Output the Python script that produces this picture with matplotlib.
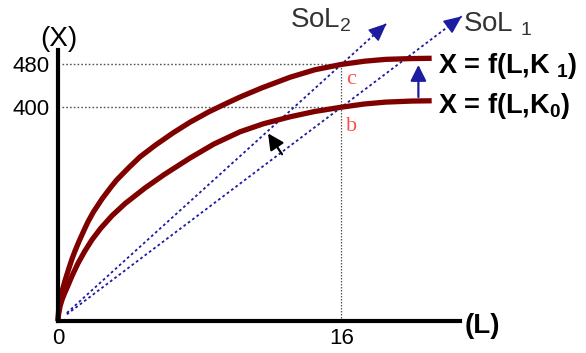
import matplotlib
matplotlib.use("Agg")
import matplotlib.pyplot as plt

plt.rcParams['font.family'] = ['Liberation Sans', 'DejaVu Sans']
plt.rcParams['mathtext.fontset'] = 'custom'
plt.rcParams['mathtext.rm'] = 'Liberation Sans'
plt.rcParams['mathtext.it'] = 'Liberation Sans'
plt.rcParams['mathtext.bf'] = 'Liberation Sans:bold'

# production curves (L, X)
L_k1 = [0, 0.03, 0.11, 0.2, 0.3, 0.4, 0.6, 0.8, 0.96, 1.2, 1.5, 1.7, 2.0, 2.5,
        3.0, 3.32, 4.0, 4.63, 5.5, 6.5, 7.46, 8.5, 9.5, 10.28, 11.5, 13.1,
        14.5, 16, 17.3, 18.5, 20, 21.1]
X_k1 = [0, 18, 38, 52, 64, 76, 97, 117, 131, 150, 172, 186, 204, 229,
        251, 264, 287, 307, 329, 352, 372, 391, 407, 419, 436, 456,
        470, 480, 486, 489.5, 491, 491.5]
L_k0 = [0, 0.03, 0.12, 0.25, 0.4, 0.56, 0.8, 1.13, 1.5, 1.92, 2.4, 3.05, 3.8,
        4.92, 6.0, 7.46, 8.8, 10.28, 11.6, 13.1, 14.5, 16, 17.3, 18.5, 20, 21.1]
X_k0 = [0, 12, 28, 42, 54, 66, 85, 108, 130, 152, 173, 197, 220,
        249, 274, 305, 331, 354, 369, 382, 392, 400, 406, 409.5, 411.5, 412]

# scale-of-labour rays (start, end)
sol1_L = [0.5, 22.8]
sol1_X = [12.5, 570]
sol2_L = [0.5, 18.55]
sol2_X = [15, 556.5]

L0 = 16
X_b = 400
X_c = 480
xticks = [0, 16]
yticks = [400, 480]

red = '#800000'
blue = '#1c1ca0'
grey = '#555555'

fig = plt.figure(figsize=(5.86, 3.53), dpi=100)
ax = fig.add_axes([58/586, 32/353, 402/586, 271/353])
ax.set_xlim(0, 22.7)
ax.set_ylim(0, 507)

# guide lines
ax.plot([0.2, L0], [X_c, X_c], color=grey, lw=1, ls=(0, (1.2, 1.5)))
ax.plot([0.2, L0], [X_b, X_b], color=grey, lw=1, ls=(0, (1.2, 1.5)))
ax.plot([L0, L0], [0, X_c], color=grey, lw=0.9, ls=(0, (1.2, 1.2)))

# rays
for lx, ly in [(sol1_L, sol1_X), (sol2_L, sol2_X)]:
    ax.plot(lx, ly, color=blue, lw=1.3, ls=(0, (1.5, 1.5)), clip_on=False)
    ax.annotate('', xy=(lx[1], ly[1]),
                xytext=(lx[1] - 0.02 * (lx[1] - lx[0]), ly[1] - 0.02 * (ly[1] - ly[0])),
                arrowprops=dict(arrowstyle='-|>,head_length=0.8,head_width=0.35',
                                color=blue, lw=1, shrinkA=0, shrinkB=0,
                                mutation_scale=14),
                annotation_clip=False)

# curves
ax.plot(L_k1, X_k1, color=red, lw=3.8, solid_capstyle='butt',
        solid_joinstyle='round', clip_on=False)
ax.plot(L_k0, X_k0, color=red, lw=3.8, solid_capstyle='butt',
        solid_joinstyle='round', clip_on=False)

# shift arrows
ax.annotate('', xy=(20.35, 479), xytext=(20.35, 419),
            arrowprops=dict(arrowstyle='-|>,head_length=0.8,head_width=0.4',
                            color=blue, lw=1.6, shrinkA=0, shrinkB=0,
                            mutation_scale=12))
ax.annotate('', xy=(11.86, 351), xytext=(12.65, 312),
            arrowprops=dict(arrowstyle='-|>,head_length=0.8,head_width=0.4',
                            color='black', lw=1.6, shrinkA=0, shrinkB=0,
                            mutation_scale=12))

# labels
ax.text(16.55, 451, 'c', color='#ff4d4d', fontsize=16, family='Liberation Serif',
        ha='center', va='center')
ax.text(16.6, 363, 'b', color='#ff4d4d', fontsize=16, family='Liberation Serif',
        ha='center', va='center')
ax.text(21.46, 478, r'X = f(L,K $_{\mathbf{1}}$)', fontsize=19.5, fontweight='bold',
        ha='left', va='center', clip_on=False)
ax.text(21.46, 403, r'X = f(L,K$_{\mathbf{0}}$)', fontsize=19.5, fontweight='bold',
        ha='left', va='center', clip_on=False)
ax.text(13.1, 563, r'SoL$_2$', fontsize=20, color='#333333',
        ha='left', va='center', clip_on=False)
ax.text(22.87, 555, r'SoL $_1$', fontsize=20, color='#333333',
        ha='left', va='center', clip_on=False)
ax.text(0.03, 528, '(X)', fontsize=20, ha='center', va='center', clip_on=False)
ax.text(22.95, -9, '(L)', fontsize=20, fontweight='bold', ha='left', va='center',
        clip_on=False)

# axes
for s in ['top', 'right']:
    ax.spines[s].set_visible(False)
ax.spines['left'].set_linewidth(3)
ax.spines['bottom'].set_linewidth(3)
ax.set_xticks(xticks)
ax.set_xticklabels([str(v) for v in xticks])
ax.set_yticks(yticks)
ax.set_yticklabels([str(v) for v in yticks])
ax.tick_params(length=0, labelsize=16)
ax.tick_params(axis='x', pad=5)
ax.tick_params(axis='y', pad=6)

fig.savefig('out.png', dpi=100)
